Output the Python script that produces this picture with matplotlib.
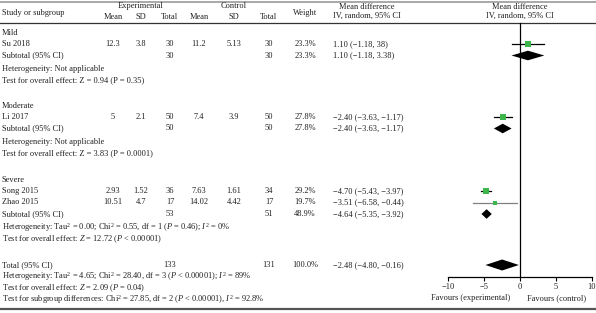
import numpy as np
import matplotlib
matplotlib.use("Agg")
import matplotlib.pyplot as plt

plt.rcParams["font.family"] = ["Liberation Serif", "DejaVu Serif"]
plt.rcParams["mathtext.fontset"] = "custom"
plt.rcParams["mathtext.rm"] = "Liberation Serif"
plt.rcParams["mathtext.it"] = "Liberation Serif:italic"

# --- data ---
studies = ["Su 2018", "Li 2017", "Song 2015", "Zhao 2015"]
exp_mean = ["12.3", "5", "2.93", "10.51"]
exp_sd = ["3.8", "2.1", "1.52", "4.7"]
exp_n = [30, 50, 36, 17]
ctl_mean = ["11.2", "7.4", "7.63", "14.02"]
ctl_sd = ["5.13", "3.9", "1.61", "4.42"]
ctl_n = [30, 50, 34, 17]
weights = [23.3, 27.8, 29.2, 19.7]
md = [1.10, -2.40, -4.70, -3.51]
md_lo = [-1.18, -3.63, -5.43, -6.58]
md_hi = [3.38, -1.17, -3.97, -0.44]
md_text = ["1.10 (−1.18, 38)", "−2.40 (−3.63, −1.17)",
           "−4.70 (−5.43, −3.97)", "−3.51 (−6.58, −0.44)"]

groups = ["Mild", "Moderate", "Severe"]
sub_exp_n = [30, 50, 53]
sub_ctl_n = [30, 50, 51]
sub_weight = [23.3, 27.8, 48.9]
sub_md = [1.10, -2.40, -4.64]
sub_lo = [-1.18, -3.63, -5.35]
sub_hi = [3.38, -1.17, -3.92]
sub_text = ["1.10 (−1.18, 3.38)", "−2.40 (−3.63, −1.17)", "−4.64 (−5.35, −3.92)"]
sub_het = ["Heterogeneity: Not applicable",
           "Heterogeneity: Not applicable",
           "Heterogeneity: Tau$^2$ = 0.00; Chi$^2$ = 0.55, df = 1 ($P$ = 0.46); $I^2$ = 0%"]
sub_test = ["Test for overall effect: Z = 0.94 (P = 0.35)",
            "Test for overall effect: Z = 3.83 (P = 0.0001)",
            "Test for overall effect: $Z$ = 12.72 ($P$ < 0.00001)"]

tot_exp_n, tot_ctl_n = 133, 131
tot_md, tot_lo, tot_hi = -2.48, -4.80, -0.16
tot_text = "−2.48 (−4.80, −0.16)"
tot_lines = ["Heterogeneity: Tau$^2$ = 4.65; Chi$^2$ = 28.40, df = 3 ($P$ < 0.00001); $I^2$ = 89%",
             "Test for overall effect: $Z$ = 2.09 ($P$ = 0.04)",
             "Test for subgroup differences: Chi$^2$ = 27.85, df = 2 ($P$ < 0.00001), $I^2$ = 92.8%"]

ticks = [-10, -5, 0, 5, 10]

# --- layout (pixel rows) ---
W, H = 596, 313
group_study_idx = [[0], [1], [2, 3]]
group_top = [33, 106, 180]
axis_y = 277
total_y = 265

txt = "#231f20"
fs = 6
green = "#3cb54a"

fig = plt.figure(figsize=(W / 100, H / 100), dpi=100)
tx = fig.add_axes([0, 0, 1, 1])
tx.set_xlim(0, W)
tx.set_ylim(H, 0)
tx.axis("off")

fx = fig.add_axes([448 / W, 0, 144 / W, 1])
fx.set_xlim(-10, 10)
fx.set_ylim(H, 0)
fx.patch.set_alpha(0)
for s in ["top", "left", "right"]:
    fx.spines[s].set_visible(False)
fx.spines["bottom"].set_position(("data", axis_y))
fx.spines["bottom"].set_linewidth(0.9)
fx.set_yticks([])
fx.set_xticks(ticks)
fx.set_xticklabels([str(t).replace("-", "−") for t in ticks])
fx.tick_params(axis="x", direction="out", length=3, width=0.8, pad=1.5,
               labelsize=fs, labelcolor=txt)

def t(x, y, s, ha="left"):
    tx.text(x, y, s, ha=ha, va="center", fontsize=fs, color=txt)

col_x = [113, 141, 170, 199, 234, 269]
w_x, md_x = 305, 333

# header
tx.plot([0, W], [2, 2], color="#999999", lw=1.2)
tx.plot([0, W], [23, 23], color="#333333", lw=0.9)
tx.plot([0, W], [309, 309], color="#555555", lw=1.6)
t(2, 13, "Study or subgroup")
t(141, 6, "Experimental", "center")
t(234, 6, "Control", "center")
for x, h in zip(col_x, ["Mean", "SD", "Total", "Mean", "SD", "Total"]):
    t(x, 17, h, "center")
t(w_x, 13, "Weight", "center")
t(367, 7, "Mean difference", "center")
t(367, 16, "IV, random, 95% CI", "center")
t(520, 7, "Mean difference", "center")
t(520, 16, "IV, random, 95% CI", "center")

def diamond(ax, y, m, lo, hi, h):
    ax.fill([lo, m, hi, m], [y, y - h, y, y + h], color="black", lw=0)

for g, name in enumerate(groups):
    y = group_top[g]
    t(2, y, name)
    y += 11
    for i in group_study_idx[g]:
        t(2, y, studies[i])
        vals = [exp_mean[i], exp_sd[i], exp_n[i], ctl_mean[i], ctl_sd[i], ctl_n[i]]
        for x, v in zip(col_x, vals):
            t(x, y, str(v), "center")
        t(w_x, y, f"{weights[i]:.1f}%", "center")
        t(md_x, y, md_text[i])
        fx.plot([md_lo[i], md_hi[i]], [y, y],
                color="#808080" if i == 3 else "black", lw=0.9)
        fx.plot(md[i], y, "s", color=green, ms=weights[i] * 0.155, mew=0)
        y += 11.5
    t(2, y, "Subtotal (95% CI)")
    t(col_x[2], y, str(sub_exp_n[g]), "center")
    t(col_x[5], y, str(sub_ctl_n[g]), "center")
    t(w_x, y, f"{sub_weight[g]:.1f}%", "center")
    t(md_x, y, sub_text[g])
    diamond(fx, y, sub_md[g], sub_lo[g], sub_hi[g], 4.8)
    y += 13.5
    t(2, y, sub_het[g])
    t(2, y + 11.5, sub_test[g])

t(2, total_y, "Total (95% CI)")
t(col_x[2], total_y, str(tot_exp_n), "center")
t(col_x[5], total_y, str(tot_ctl_n), "center")
t(w_x, total_y, "100.0%", "center")
t(md_x, total_y, tot_text)
diamond(fx, total_y, tot_md, tot_lo, tot_hi, 5.5)
for k, line in enumerate(tot_lines):
    t(2, total_y + 11.5 * (k + 1), line)

fx.plot([0, 0], [23, axis_y], color="black", lw=0.9)
fx.text(-1.4, 298, "Favours (experimental)", ha="right", va="center", fontsize=fs, color=txt)
fx.text(1.0, 298, "Favours (control)", ha="left", va="center", fontsize=fs, color=txt)

fig.savefig("out.png", dpi=100)
